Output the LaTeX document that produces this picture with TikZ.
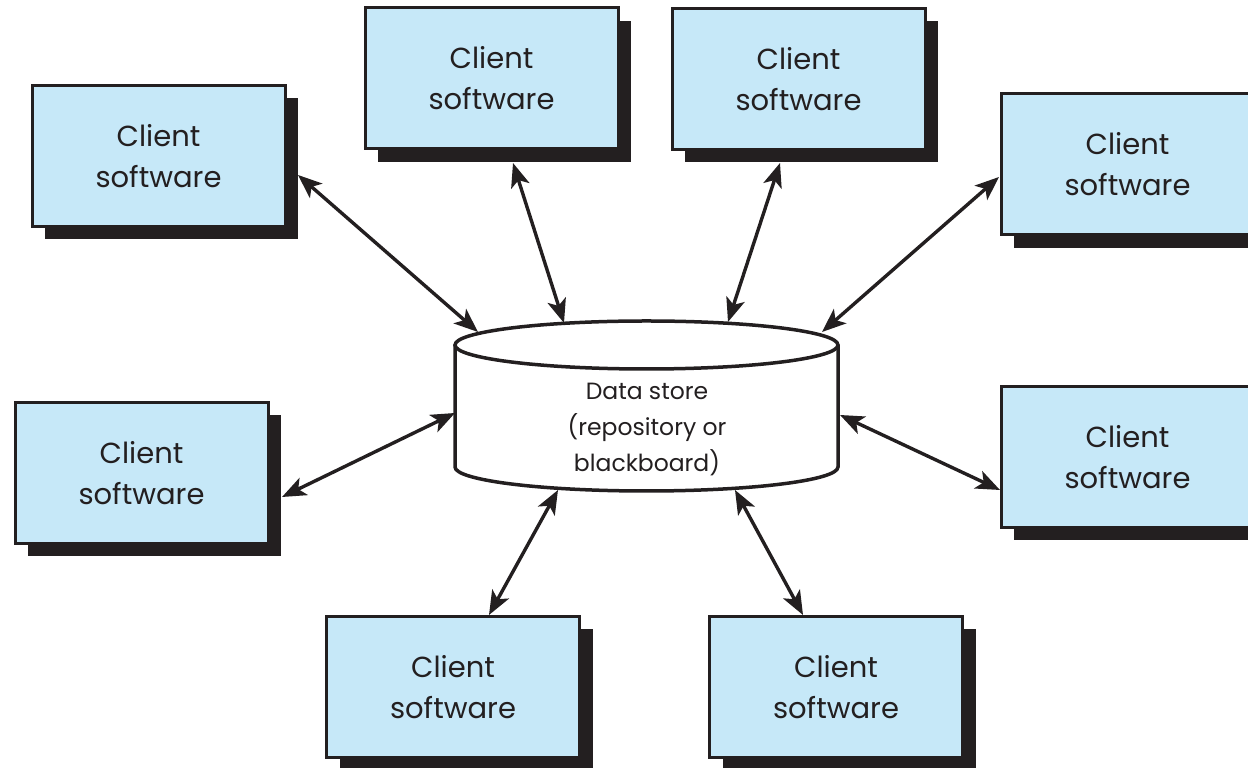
\documentclass[tikz,border=0pt]{standalone}
\usepackage{fontspec}
\setmainfont{Poppins}
\usetikzlibrary{arrows.meta}
\definecolor{boxblue}{RGB}{198,232,248}
\definecolor{ink}{RGB}{35,31,32}
\tikzset{
  client/.style={draw=ink, line width=3pt, fill=boxblue, minimum width=253pt, minimum height=141pt,
    inner sep=0pt, align=center, font=\fontsize{29}{41}\selectfont, text=ink},
  shade/.style={fill=ink, draw=none, minimum width=253pt, minimum height=141pt, inner sep=0pt},
  link/.style={draw=ink, line width=3.4pt, {Stealth[length=24pt,width=19pt,inset=6pt]}-{Stealth[length=24pt,width=19pt,inset=6pt]}}
}
\begin{document}
\begin{tikzpicture}[x=1pt,y=1pt]
\useasboundingbox (0,0) rectangle (1248,768);
% shadows
\foreach \px/\py [count=\k] in {158.5/612,491.5/689.5,798.5/689,1127.5/603.5,141.5/295,1127.5/311,453/81,836/81}{
  \node[shade] (s\k) at (\px+13,\py-13) {};
}
\node[client] (c1) at (158.5,612) {Client\\software};
\node[client] (c2) at (491.5,689.5) {Client\\software};
\node[client] (c3) at (798.5,689) {Client\\software};
\node[client] (c4) at (1127.5,603.5) {Client\\software};
\node[client] (c5) at (141.5,295) {Client\\software};
\node[client] (c6) at (1127.5,311) {Client\\software};
\node[client] (c7) at (453,81) {Client\\software};
\node[client] (c8) at (836,81) {Client\\software};
% data store
\draw[ink, line width=3.5pt, fill=white] (455,423) -- (455,301) arc[start angle=180,end angle=360,x radius=191.5,y radius=24] -- (838,423);
\draw[ink, line width=3.5pt, fill=white] (646.5,423) ellipse[x radius=191.5,y radius=24];
\node[align=center, text=ink, font=\fontsize{23.5}{36}\selectfont] (ds) at (647,338) {Data store\\(repository or\\blackboard)};
% endpoints
\coordinate (a1) at (298,593); \coordinate (b1) at (478,436);
\coordinate (a2) at (513,605); \coordinate (b2) at (564,445);
\coordinate (a3) at (780,605); \coordinate (b3) at (728,446);
\coordinate (a4) at (999,591); \coordinate (b4) at (822,436);
\coordinate (a5) at (282,271); \coordinate (b5) at (455,355);
\coordinate (a6) at (1000,278); \coordinate (b6) at (840,353);
\coordinate (a7) at (489,153); \coordinate (b7) at (558,278);
\coordinate (a8) at (803,153); \coordinate (b8) at (735,278);
\foreach \i in {1,...,8}{ \draw[link] (a\i) -- (b\i); }
\end{tikzpicture}
\end{document}
